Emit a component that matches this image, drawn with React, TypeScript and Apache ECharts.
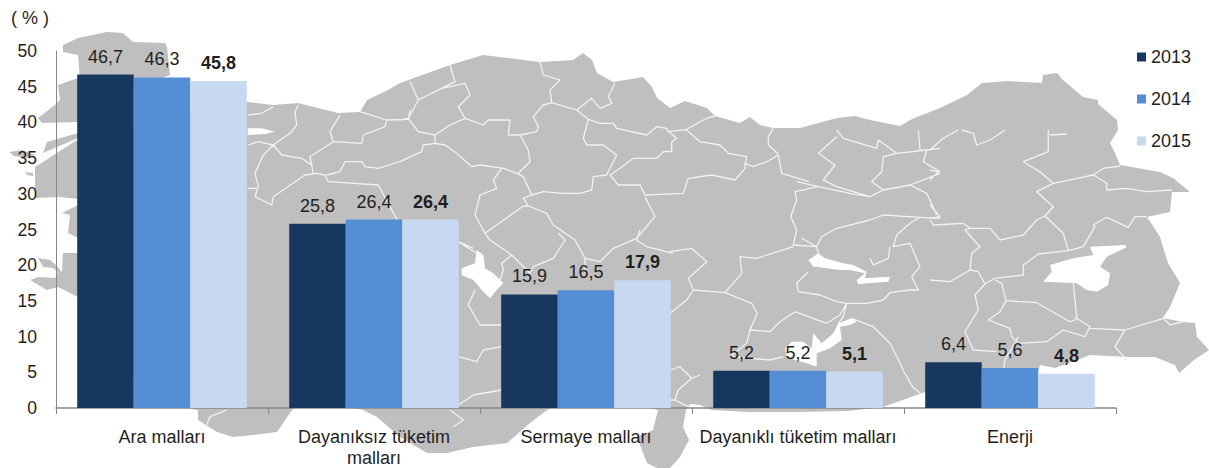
import React, { useEffect, useRef } from "react";
import * as echarts from "echarts";

const categories = ["Ara malları", "Dayanıksız tüketim\nmalları", "Sermaye malları", "Dayanıklı tüketim malları", "Enerji"];
const values2013 = [46.7, 25.8, 15.9, 5.2, 6.4];
const values2014 = [46.3, 26.4, 16.5, 5.2, 5.6];
const values2015 = [45.8, 26.4, 17.9, 5.1, 4.8];
const yTicks = { min: 0, max: 50, interval: 5 };

const FONT = '"Liberation Sans", Arial, sans-serif';
const TEXT = "#1f1f1f";

type Pts = number[];
const toD = (pts: Pts, close: boolean, ox = 0, oy = 0, sx = 1, sy = 1) => {
  let d = "";
  for (let i = 0; i < pts.length; i += 2) {
    d += (i === 0 ? "M" : "L") + (ox + pts[i] / sx).toFixed(1) + " " + (oy + pts[i + 1] / sy).toFixed(1) + " ";
  }
  return d + (close ? "Z " : "");
};

// Map land, page pixels
const landMain: Pts = [85,140, 240,100, 247,102, 273,105, 298,103, 338,113, 360,112, 367,100, 388,90, 400,83, 450,65, 483,55, 540,62, 573,60, 583,53, 592,60, 597,73, 613,82, 643,77, 652,87, 657,98, 670,108, 685,101, 707,108, 715,116, 740,123, 750,117, 760,125, 773,128, 800,128, 837,118, 855,116, 870,120, 900,126, 912,119, 940,108, 967,95, 982,83, 1007,81, 1042,83, 1043,75, 1057,73, 1063,80, 1083,97, 1098,100, 1098,104, 1117,120, 1118,130, 1110,143, 1115,153, 1120,165, 1160,172, 1173,178, 1190,192, 1172,192, 1170,212, 1147,217, 1160,237, 1168,263, 1180,283, 1170,307, 1163,318, 1183,322, 1195,323, 1197,337, 1209,350, 1194,360, 1179,373, 1175,365, 1155,357, 1130,357, 1090,355, 1077,360, 1055,368, 1040,365, 1038,372, 985,378, 925,392, 883,407, 848,411, 800,412, 748,412, 712,410, 700,405, 690,404, 686,410, 683,427, 689,440, 680,457, 670,468, 657,468, 647,463, 637,437, 653,430, 658,410, 640,405, 560,405, 547,410, 530,423, 507,443, 473,447, 447,453, 427,453, 400,437, 377,417, 363,410, 340,405, 296,405, 290,413, 277,432, 253,435, 233,437, 217,432, 198,420, 198,410, 170,405, 80,340, 80,300, 78,297, 58,287, 47,290, 30,280, 38,277, 55,278, 58,272, 53,268, 43,267, 38,258, 50,260, 56,265, 62,272, 63,253, 80,253, 82,240, 78,238, 68,233, 70,215, 62,213, 78,205, 85,200, 78,199, 60,197, 35,198, 35,167, 43,162, 77,140];
const landThrace: Pts = [63,45, 78,38, 107,32, 123,33, 133,42, 165,43, 167,47, 170,75, 100,100, 80,80, 78,55, 63,52];
const landGallipoli: Pts = [58,85, 78,78, 90,90, 78,122, 42,123, 38,118, 55,105, 60,100];
const landStrip: Pts = [47,142, 78,133, 85,133, 78,138, 43,153];
const landIslandA: Pts = [9,152, 22,150, 35,155, 26,158, 14,156];
const landIslandB: Pts = [25,172, 33,173, 33,176, 27,175];

// Water bodies, crop coordinates
const lakeSalt: Pts = [110,60, 130,75, 135,115, 160,130, 190,160, 170,180, 150,205, 130,185, 100,150, 65,135, 65,115, 105,100];
const lakeWest: Pts = [8,115, 50,115, 90,125, 60,132, 8,135];
const lakeKeban: Pts = [415,390, 430,380, 445,370, 465,385, 520,400, 550,405, 590,425, 585,445, 660,440, 655,455, 565,462, 560,450, 585,430, 540,420, 510,420, 470,415, 440,410, 430,410];
const lakeAtaturk: Pts = [365,635, 400,635, 425,655, 430,610, 455,640, 490,610, 505,580, 545,565, 560,575, 540,585, 510,590, 515,630, 480,655, 440,670, 440,710, 410,700, 375,690, 350,680, 345,655];
const lakeVan: Pts = [480,350, 585,345, 590,352, 530,380, 510,410, 540,430, 535,465, 500,485, 470,480, 440,460, 340,455, 365,425, 360,405, 430,385, 490,375];

// Province borders, crop coordinates
const bordersCropE: Pts[] = [
  [0,270,10,285,100,280,120,295,180,295,210,330,280,315,320,270,345,258,370,230,320,185,370,160,490,135,520,115,570,108],
  [370,160,330,125,280,95,355,65,355,0],
  [490,135,530,160,530,180,590,175,650,185,725,180],
  [345,258,400,310,415,362,460,350,495,290,490,285,530,262,595,292,615,260,650,260],
  [415,362,325,372,280,405,280,435,195,445,165,462,145,425,120,420,125,370,150,350,105,300,120,295],
  [120,420,60,455,0,450],
  [195,450,215,460,228,512,320,518,420,575,435,570,440,560,430,460],
  [228,512,210,545,175,570,240,595,245,620,265,640,350,635,400,600,465,620,480,590,440,565],
  [165,462,135,495,145,540,105,605,130,660,200,665],
  [265,620,225,690,220,720],
  [480,595,585,600,700,565,720,585,760,575],
  [585,600,555,650,590,690],
  [0,60,40,25,85,0],
  [95,0,130,10,140,45,180,30,225,0],
  [360,15,410,12],
  [0,150,25,125,0,120],
  [0,225,30,260,0,265],
];
const bordersCropC: Pts[] = [
  [445,170,540,190,600,200,640,180,720,165,770,190,800,255],
  [445,170,380,155],
  [445,170,375,185,380,210,362,260,380,300,370,345,440,350,445,340,455,320,500,295,600,270,640,255,750,262,810,265],
  [370,350,260,385,210,380,215,430,165,488,245,520,262,550,240,600,300,605,330,575,375,545,470,580,510,555,530,520],
  [165,488,70,480,55,445,110,395,65,355,0,365],
  [70,480,50,510,0,550],
  [240,600,230,640,180,680,300,690,340,680],
  [395,325,440,350,445,370],
  [415,425,380,460,385,485,450,495,500,515,530,520,590,520,640,510,660,488,720,480,745,480,725,440,750,410,720,340,670,350,680,315,720,280,750,262],
  [660,350,655,385,610,405,600,385],
  [530,520,520,560,505,580],
  [545,565,610,590,660,640,700,720],
  [500,0,520,25,620,55,625,30,680,70,770,60,810,55],
  [770,60,760,95,810,125],
  [445,70,500,20],
  [445,70,495,105,460,150,500,170,600,200],
  [680,70,640,80,635,125,605,155,640,180],
  [720,165,810,130],
  [745,0,750,60],
];
const bordersCropN: Pts[] = [
  [0,270,25,265,55,305,105,315,105,340,70,345,65,365,0,395],
  [30,155,55,210,25,265],
  [55,210,125,175,195,160,210,195,175,230,195,265,150,285,105,315],
  [150,105,165,155,125,175],
  [195,265,250,285,265,270,330,270,325,315,360,315,410,305,415,290,400,260,430,225,455,218,530,240,565,268,600,280,640,280,650,295,740,315,770,290,800,295,805,305,860,298,920,265,945,258],
  [420,95,430,135,480,150,450,180,455,218],
  [645,160,625,200,635,220,600,235,575,205,530,240],
  [565,268,550,325,560,345,610,345,650,375,620,435],
  [800,300,830,325,815,335,815,365,790,365,770,385,700,385,660,415,630,435,655,465,720,465,735,495,850,490,865,445,935,435,1005,450,1035,415,1035,400,1060,410,1100,395,1135,375,1145,430,1227,455],
  [860,300,900,335,960,345,985,370,1040,380,1035,405],
  [1135,372,1105,345,1105,320,1120,295],
  [620,435,580,440,575,480,540,490,490,490,430,485,395,495,370,440,350,430,310,415,240,405,215,410,170,370,135,345,105,340],
  [360,315,385,360,390,395,355,430],
];
const bordersCropM: Pts[] = [
  [585,200,615,260,560,325,490,355,450,395,405,385,375,330,310,285,290,250,235,228,220,205,245,195],
  [155,115,130,150,140,175,90,195,75,255,105,310,220,228,235,228],
  [105,310,120,330,185,375,155,400,160,420,150,450],
  [185,375,240,430],
  [325,310,345,330,310,385,250,410,240,430],
  [405,385,405,430],
  [25,335,80,370],
];
const bordersCropW: Pts[] = [
  [10,75,50,70,85,50],
  [160,45,150,65,155,105,135,130,85,165,40,155,10,165],
  [85,165,55,195,30,250,40,290,30,320,80,345,85,320,180,255,215,250,240,255,250,275,400,285,440,360,460,395],
  [8,295,35,295],
  [85,165,110,195,170,205,200,225,205,250],
  [200,225,195,200,265,155,350,160,355,135,420,110,425,90,345,65],
  [285,75,255,125,265,155],
  [425,90,490,88,495,60],
  [480,210,400,235,360,230,350,215,300,215,285,245,245,255],
];
const bordersCropS: Pts[] = [
  [55,35,100,55],
  [105,180,85,225,120,285,185,285],
  [55,380,110,395,130,360,185,350],
  [55,525,100,495,185,480],
  [690,420,720,410,755,445,715,480,705,510,745,530],
  [755,445,780,435],
  [690,510,705,510],
  [30,540,70,570,40,590],
  [600,0,590,30,620,50,700,70],
];
const bordersLower: Pts[] = [
  [620,555,630,530,680,510],
];
const bordersFar: Pts[] = [
  [780,390,805,440,825,460],
];

const landD = [landMain, landThrace, landGallipoli, landStrip, landIslandA, landIslandB].map((p) => toD(p, true)).join("");
const lakesD =
  toD(lakeSalt, true, 440, 230, 3, 3) +
  toD(lakeWest, true, 245, 90, 3, 3) +
  toD(lakeKeban, true, 670, 130, 3, 3) +
  toD(lakeAtaturk, true, 670, 130, 3, 3) +
  toD(lakeVan, true, 930, 130, 3, 3);
const bordersD =
  bordersCropE.map((p) => toD(p, false, 930, 130, 3, 3)).join("") +
  bordersCropC.map((p) => toD(p, false, 670, 130, 3, 3)).join("") +
  bordersCropN.map((p) => toD(p, false, 400, 30, 3, 3)).join("") +
  bordersCropM.map((p) => toD(p, false, 450, 130, 3, 3)).join("") +
  bordersCropW.map((p) => toD(p, false, 245, 90, 3, 3)).join("") +
  bordersCropS.map((p) => toD(p, false, 440, 230, 3, 3)).join("") +
  bordersLower.map((p) => toD(p, false, 0, 240, 3, 3)).join("") +
  bordersFar.map((p) => toD(p, false, 600, 240, 2.575, 3)).join("");

echarts.graphic.registerShape("trLand", echarts.graphic.extendPath(landD, {}));
echarts.graphic.registerShape("trLakes", echarts.graphic.extendPath(lakesD, {}));
echarts.graphic.registerShape("trBorders", echarts.graphic.extendPath(bordersD, {}));

const barSeries = (name: string, data: number[], color: string, bold: boolean) => ({
  name,
  type: "bar",
  data,
  barGap: "0%",
  barCategoryGap: "20%",
  itemStyle: { color },
  label: {
    show: true,
    position: "top",
    distance: 9,
    color: TEXT,
    fontFamily: FONT,
    fontSize: 18,
    fontWeight: bold ? "bold" : "normal",
    formatter: (p: any) => String(p.value).replace(".", ","),
  },
});

export default function App() {
  const ref = useRef<HTMLDivElement>(null);
  useEffect(() => {
    document.body.style.margin = "0";
    const chart = echarts.init(ref.current!, null, { renderer: "svg" });
    chart.setOption({
      animation: false,
      backgroundColor: "#ffffff",
      textStyle: { fontFamily: FONT },
      graphic: {
        elements: [
          { type: "trLand", x: 0, y: 0, z: -3, silent: true, style: { fill: "#BFBFBF", stroke: "none" } },
          { type: "trBorders", x: 0, y: 0, z: -2, silent: true, style: { fill: "none", stroke: "#F2F2F2", lineWidth: 1.3, lineJoin: "round" } },
          { type: "trLakes", x: 0, y: 0, z: -1, silent: true, style: { fill: "#FFFFFF", stroke: "none" } },
        ],
      },
      legend: {
        orient: "vertical",
        left: 1132,
        top: 42,
        itemWidth: 9,
        itemHeight: 9,
        itemGap: 22,
        icon: "rect",
        textStyle: { color: TEXT, fontFamily: FONT, fontSize: 18, lineHeight: 20 },
        data: ["2013", "2014", "2015"],
      },
      grid: { left: 56, right: 93, top: 51, bottom: 59, containLabel: false },
      xAxis: {
        type: "category",
        data: categories,
        axisLine: { lineStyle: { color: "#868686", width: 1.5 } },
        axisTick: { show: true, length: 6, lineStyle: { color: "#868686" } },
        axisLabel: { color: TEXT, fontFamily: FONT, fontSize: 18, lineHeight: 21, margin: 18, interval: 0 },
      },
      yAxis: {
        type: "value",
        min: yTicks.min,
        max: yTicks.max,
        interval: yTicks.interval,
        name: "( % )",
        nameLocation: "end",
        nameGap: 24,
        nameTextStyle: { color: TEXT, fontFamily: FONT, fontSize: 18, align: "left", padding: [0, 0, 0, -45] },
        axisLine: { show: true, lineStyle: { color: "#868686", width: 1 } },
        axisTick: { show: false },
        splitLine: { show: false },
        axisLabel: { color: TEXT, fontFamily: FONT, fontSize: 17.5, margin: 19 },
      },
      series: [
        barSeries("2013", values2013, "#17375E", false),
        barSeries("2014", values2014, "#558ED5", false),
        barSeries("2015", values2015, "#C6D9F1", true),
      ],
    });
    return () => chart.dispose();
  }, []);
  return <div ref={ref} style={{ width: 1209, height: 468 }} />;
}
